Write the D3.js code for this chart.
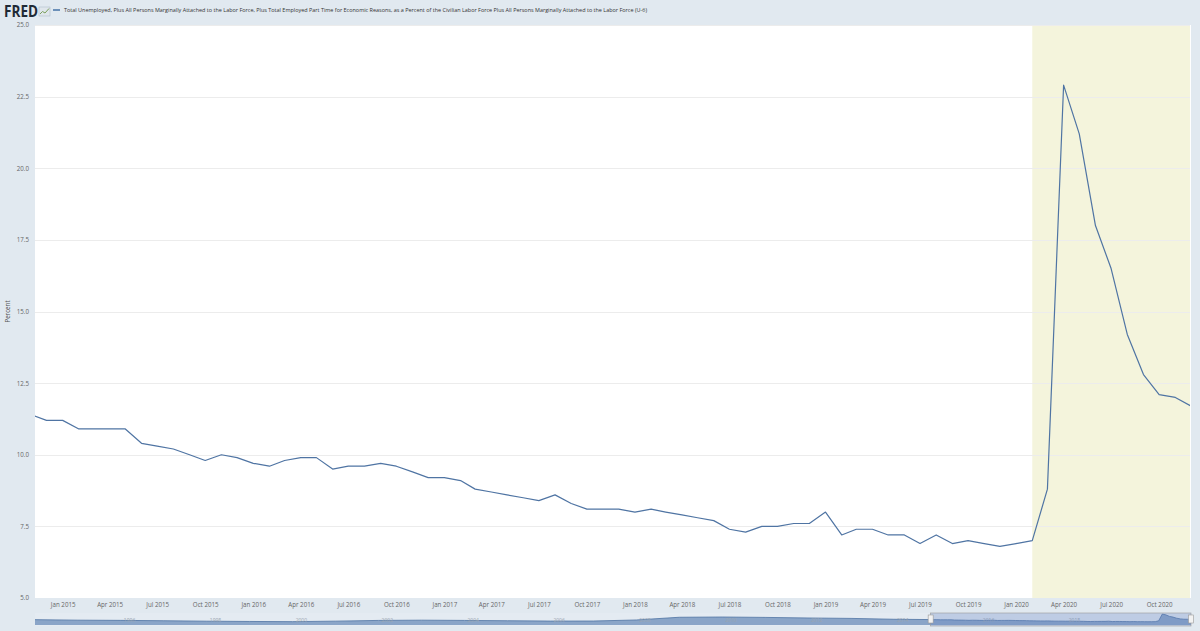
<!DOCTYPE html>
<html>
<head>
<meta charset="utf-8">
<script src="https://cdn.jsdelivr.net/npm/d3@7"></script>
<style>
  html, body { margin: 0; padding: 0; background: #e1e9f0; }
  svg { display: block; }
  text { font-family: "Open Sans", "Noto Sans", sans-serif; }
</style>
</head>
<body>
<svg id="chart" width="1200" height="631"></svg>
<script>
// ---------------- DATA ----------------
const seriesTitle = "Total Unemployed, Plus All Persons Marginally Attached to the Labor Force, Plus Total Employed Part Time for Economic Reasons, as a Percent of the Civilian Labor Force Plus All Persons Marginally Attached to the Labor Force (U-6)";
const yAxisTitle = "Percent";

// Monthly observations, Nov 2014 .. Dec 2020
const months = [
  "2014-11","2014-12",
  "2015-01","2015-02","2015-03","2015-04","2015-05","2015-06","2015-07","2015-08","2015-09","2015-10","2015-11","2015-12",
  "2016-01","2016-02","2016-03","2016-04","2016-05","2016-06","2016-07","2016-08","2016-09","2016-10","2016-11","2016-12",
  "2017-01","2017-02","2017-03","2017-04","2017-05","2017-06","2017-07","2017-08","2017-09","2017-10","2017-11","2017-12",
  "2018-01","2018-02","2018-03","2018-04","2018-05","2018-06","2018-07","2018-08","2018-09","2018-10","2018-11","2018-12",
  "2019-01","2019-02","2019-03","2019-04","2019-05","2019-06","2019-07","2019-08","2019-09","2019-10","2019-11","2019-12",
  "2020-01","2020-02","2020-03","2020-04","2020-05","2020-06","2020-07","2020-08","2020-09","2020-10","2020-11","2020-12"
];
const u6Values = [
  11.4, 11.2,
  11.2, 10.9, 10.9, 10.9, 10.9, 10.4, 10.3, 10.2, 10.0, 9.8, 10.0, 9.9,
  9.7, 9.6, 9.8, 9.9, 9.9, 9.5, 9.6, 9.6, 9.7, 9.6, 9.4, 9.2,
  9.2, 9.1, 8.8, 8.7, 8.6, 8.5, 8.4, 8.6, 8.3, 8.1, 8.1, 8.1,
  8.0, 8.1, 8.0, 7.9, 7.8, 7.7, 7.4, 7.3, 7.5, 7.5, 7.6, 7.6,
  8.0, 7.2, 7.4, 7.4, 7.2, 7.2, 6.9, 7.2, 6.9, 7.0, 6.9, 6.8,
  6.9, 7.0, 8.8, 22.9, 21.2, 18.0, 16.5, 14.2, 12.8, 12.1, 12.0, 11.7
];

// Longer history shown in the navigator (approximate yearly levels)
const navYears = ["1994","1995","1996","1997","1998","1999","2000","2001","2002","2003","2004",
                  "2005","2006","2007","2008","2009","2010","2011","2012","2013","2014"];
const navValues = [11.2, 10.1, 9.7, 8.9, 8.0, 7.4, 7.0, 8.1, 9.6, 10.1, 9.6,
                   8.9, 8.2, 8.3, 10.5, 16.2, 16.7, 15.9, 14.7, 13.8, 12.0];
const navLabelYears = ["1996","1998","2000","2002","2004","2006","2008","2010","2012","2014","2016","2018"];

// Recession periods (shaded)
const recessionStart = ["2020-02-01"];
const recessionEnd   = ["2020-12-31"];

// Axis settings
const yTicks = [5.0, 7.5, 10.0, 12.5, 15.0, 17.5, 20.0, 22.5, 25.0];
const viewStart = "2014-11-09";
const viewEnd = "2020-12-01";
const navStart = "1994-01-01";

// ---------------- DRAW ----------------
const svg = d3.select("#chart");
const W = 1200, H = 631;
const plot = { left: 35, right: 1191, top: 25, bottom: 598 };
const parseM = d3.timeParse("%Y-%m");
const parseD = d3.timeParse("%Y-%m-%d");
const parseY = d3.timeParse("%Y");

const data = months.map((m, i) => ({ date: parseM(m), value: u6Values[i] }));

const x = d3.scaleTime()
  .domain([parseD(viewStart), parseD(viewEnd)])
  .range([plot.left, plot.right]);
const y = d3.scaleLinear()
  .domain([5, 25])
  .range([plot.bottom, plot.top]);

// background
svg.append("rect").attr("width", W).attr("height", H).attr("fill", "#e1e9f0");

// plot area
svg.append("rect")
  .attr("x", plot.left).attr("y", plot.top)
  .attr("width", plot.right - plot.left).attr("height", plot.bottom - plot.top)
  .attr("fill", "#ffffff");

svg.append("clipPath").attr("id", "plotClip")
  .append("rect")
  .attr("x", plot.left).attr("y", plot.top)
  .attr("width", plot.right - plot.left - 1).attr("height", plot.bottom - plot.top);

const plotG = svg.append("g").attr("clip-path", "url(#plotClip)");

// recession shading
plotG.selectAll("rect.rec")
  .data(recessionStart.map((s, i) => ({ s: parseD(s), e: parseD(recessionEnd[i]) })))
  .join("rect")
  .attr("class", "rec")
  .attr("x", d => x(d.s))
  .attr("y", plot.top)
  .attr("width", d => x(d.e) - x(d.s))
  .attr("height", plot.bottom - plot.top)
  .attr("fill", "#f4f4dc");

// grid lines
plotG.selectAll("line.grid")
  .data(yTicks)
  .join("line")
  .attr("class", "grid")
  .attr("x1", plot.left).attr("x2", plot.right)
  .attr("y1", d => Math.round(y(d)) + 0.5).attr("y2", d => Math.round(y(d)) + 0.5)
  .attr("stroke", "#ececec")
  .attr("stroke-width", 1);

// y axis
const yAxis = d3.axisLeft(y)
  .tickValues(yTicks)
  .tickFormat(d3.format(".1f"))
  .tickSize(0)
  .tickPadding(6);
const yAxisG = svg.append("g")
  .attr("transform", `translate(${plot.left},0)`)
  .call(yAxis);
yAxisG.select(".domain").remove();
yAxisG.selectAll("text")
  .attr("fill", "#666")
  .attr("font-size", 6.2);

// y axis title
svg.append("text")
  .attr("transform", `translate(10,${(plot.top + plot.bottom) / 2}) rotate(-90)`)
  .attr("text-anchor", "middle")
  .attr("font-size", 6.2)
  .attr("fill", "#555")
  .text(yAxisTitle);

// x axis
const xAxis = d3.axisBottom(x)
  .ticks(d3.timeMonth.every(3))
  .tickFormat(d3.timeFormat("%b %Y"))
  .tickSize(0)
  .tickPadding(5);
const xAxisG = svg.append("g")
  .attr("transform", `translate(0,${plot.bottom})`)
  .call(xAxis);
xAxisG.select(".domain").remove();
xAxisG.selectAll("text")
  .attr("fill", "#666")
  .attr("font-size", 6.2);

// line
const line = d3.line()
  .x(d => x(d.date))
  .y(d => y(d.value));
plotG.append("path")
  .datum(data)
  .attr("d", line)
  .attr("fill", "none")
  .attr("stroke", "#4f74a3")
  .attr("stroke-width", 1.2)
  .attr("stroke-linejoin", "round");

// ---------------- NAVIGATOR ----------------
const nav = { top: 613, bottom: 626 };
const nx = d3.scaleTime()
  .domain([parseD(navStart), parseD(viewEnd)])
  .range([plot.left, plot.right]);
const ny = d3.scaleLinear().domain([0, 23]).range([625, 614]);

svg.append("rect")
  .attr("x", plot.left).attr("y", nav.top)
  .attr("width", plot.right - plot.left).attr("height", nav.bottom - nav.top)
  .attr("fill", "#e4ebf2");

const navData = navYears.map((yr, i) => ({ date: parseY(yr), value: navValues[i] }))
  .concat(data);

svg.append("path")
  .datum(navData)
  .attr("d", d3.area().x(d => nx(d.date)).y0(625).y1(d => ny(d.value)))
  .attr("fill", "#7393bd")
  .attr("fill-opacity", 0.8);
svg.append("path")
  .datum(navData)
  .attr("d", d3.line().x(d => nx(d.date)).y(d => ny(d.value)))
  .attr("fill", "none")
  .attr("stroke", "#4f74a3")
  .attr("stroke-width", 0.8);

// navigator year labels
svg.selectAll("text.navlab")
  .data(navLabelYears)
  .join("text")
  .attr("class", "navlab")
  .attr("x", d => nx(parseY(d)) + 3)
  .attr("y", 622)
  .attr("font-size", 5)
  .attr("fill", "#9aa5b1")
  .text(d => d);

// selection mask
const selX0 = nx(parseD(viewStart)), selX1 = nx(parseD(viewEnd));
svg.append("rect")
  .attr("x", selX0).attr("y", nav.top)
  .attr("width", selX1 - selX0).attr("height", nav.bottom - nav.top)
  .attr("fill", "rgba(102,133,194,0.3)")
  .attr("stroke", "#999")
  .attr("stroke-width", 0.6);
[selX0, selX1].forEach(hx => {
  svg.append("rect")
    .attr("x", hx - 2.5).attr("y", 615)
    .attr("width", 5).attr("height", 8)
    .attr("fill", "#f2f2f2")
    .attr("stroke", "#999")
    .attr("stroke-width", 0.6);
});

// ---------------- HEADER ----------------
svg.append("text")
  .attr("x", 4).attr("y", 17)
  .attr("font-family", "Liberation Sans, Arial, sans-serif")
  .attr("font-weight", "bold")
  .attr("font-size", 16)
  .attr("fill", "#1f2a36")
  .attr("textLength", 34)
  .attr("lengthAdjust", "spacingAndGlyphs")
  .text("FRED");
// small graph icon
const iconG = svg.append("g").attr("transform", "translate(39,7)");
iconG.append("rect").attr("x", 0).attr("y", 0).attr("width", 11).attr("height", 9)
  .attr("fill", "#dfe6ec").attr("stroke", "#a9b6c2").attr("stroke-width", 0.5);
iconG.append("path").attr("d", "M1,7 L3.5,4.5 L6,6 L10,1.5")
  .attr("fill", "none").attr("stroke", "#7ba05b").attr("stroke-width", 1);

// legend
svg.append("line")
  .attr("x1", 53).attr("x2", 60).attr("y1", 10).attr("y2", 10)
  .attr("stroke", "#4572a7").attr("stroke-width", 1.5);
svg.append("text")
  .attr("x", 64).attr("y", 12)
  .attr("font-size", 6)
  .attr("fill", "#333")
  .attr("textLength", 583)
  .attr("lengthAdjust", "spacingAndGlyphs")
  .text(seriesTitle);
</script>
</body>
</html>
